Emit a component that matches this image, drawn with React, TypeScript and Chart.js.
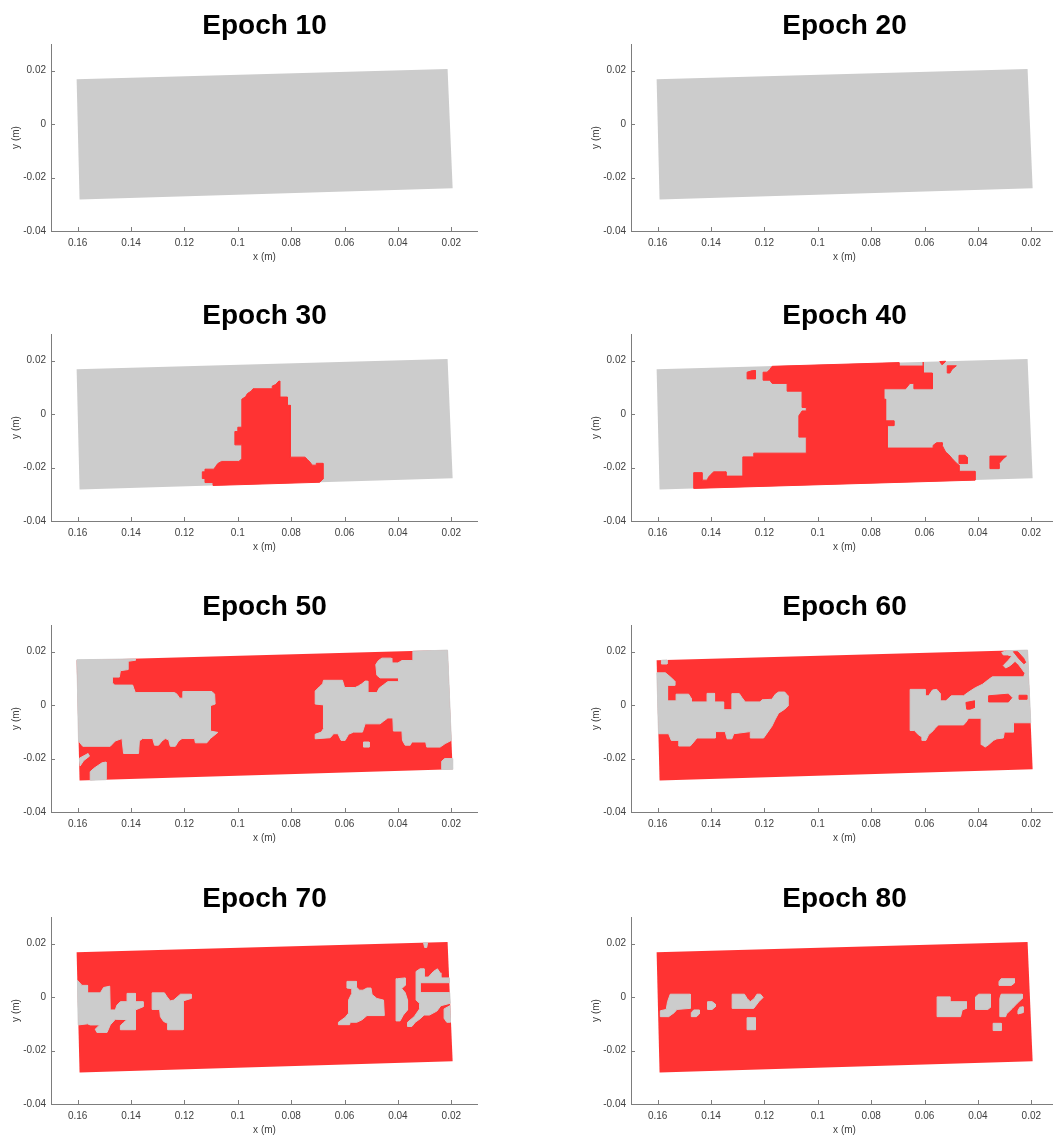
import React, { useEffect, useRef } from 'react';
import { Chart, registerables } from 'chart.js';

Chart.register(...registerables);

// ---------- axes ----------
const EPOCHS = [10, 20, 30, 40, 50, 60, 70, 80];
const X_TICKS = [0.16, 0.14, 0.12, 0.1, 0.08, 0.06, 0.04, 0.02];
const Y_TICKS = [-0.04, -0.02, 0, 0.02];
const X_RANGE = [0.01, 0.17];
const Y_RANGE = [-0.04, 0.03];

// ---------- specimen outline (x, y in metres) ----------
const DOMAIN = [[0.1604, 0.0168], [0.0214, 0.0206], [0.0195, -0.024], [0.1593, -0.0282]];

// ---------- epoch 30 : damaged (red) zone ----------
const E30_RED = [
  [0.0985, 0.0056], [0.0971, 0.0065], [0.0964, 0.0077], [0.095, 0.0086], [0.0943, 0.0095], [0.0871, 0.0095],
  [0.0871, 0.0105], [0.0858, 0.0111], [0.0846, 0.0124], [0.0843, 0.0124], [0.0843, 0.0064], [0.0814, 0.0064],
  [0.0814, 0.0033], [0.0803, 0.0033], [0.0803, -0.0161], [0.0748, -0.0161], [0.074, -0.0169], [0.073, -0.0179],
  [0.0721, -0.0191], [0.0706, -0.0191], [0.0706, -0.0184], [0.0681, -0.0184], [0.0681, -0.0243], [0.0693, -0.0255],
  [0.1093, -0.0267], [0.1093, -0.0256], [0.1123, -0.0256], [0.1123, -0.0241], [0.1133, -0.0241], [0.1133, -0.0216],
  [0.1123, -0.0216], [0.1123, -0.0206], [0.109, -0.0206], [0.1083, -0.0196], [0.1075, -0.0185], [0.1061, -0.0177],
  [0.0996, -0.0177], [0.0985, -0.0167], [0.0985, -0.0115], [0.1011, -0.0115], [0.1011, -0.0065], [0.1, -0.0065],
  [0.1, -0.0049], [0.0985, -0.0049],
];

// ---------- epoch 40 ----------
const E40_RED_MAIN = [
  [0.1171, 0.0179], [0.0696, 0.0193], [0.0696, 0.018], [0.0605, 0.018], [0.0605, 0.0195], [0.0605, 0.0154],
  [0.0571, 0.0154], [0.0571, 0.0095], [0.064, 0.0095], [0.064, 0.0115], [0.0655, 0.0115], [0.0671, 0.0095],
  [0.0753, 0.0095], [0.0753, 0.0056], [0.0746, 0.0056], [0.0746, -0.0025], [0.0715, -0.0025], [0.0715, -0.0043],
  [0.074, -0.0043], [0.074, -0.0127], [0.0568, -0.0127], [0.0568, -0.0117], [0.0555, -0.0107], [0.0534, -0.0107],
  [0.0534, -0.0117], [0.0521, -0.0142], [0.0509, -0.0152], [0.0496, -0.0167], [0.0481, -0.0183], [0.0471, -0.0191],
  [0.0471, -0.0214], [0.0411, -0.0214], [0.0411, -0.0247], [0.1465, -0.0278], [0.1465, -0.0219], [0.1434, -0.0219],
  [0.1434, -0.0247], [0.1415, -0.0247], [0.1409, -0.0235], [0.14, -0.0225], [0.139, -0.0216], [0.1344, -0.0216],
  [0.1344, -0.0232], [0.1281, -0.0232], [0.1281, -0.016], [0.124, -0.016], [0.124, -0.0146], [0.1043, -0.0146],
  [0.1043, -0.0086], [0.1071, -0.0086], [0.1071, -0.0006], [0.1059, 0.0012], [0.1043, 0.0012], [0.1043, 0.0025],
  [0.1059, 0.0025], [0.1059, 0.0086], [0.1115, 0.0086], [0.1115, 0.0115], [0.1171, 0.0115], [0.118, 0.0127],
  [0.1205, 0.0127], [0.1205, 0.0157], [0.119, 0.0157], [0.118, 0.0167],
];
const E40_RED_A = [[0.1265, 0.0157], [0.1245, 0.0163], [0.1234, 0.0163], [0.1234, 0.0132], [0.1265, 0.0132]];
const E40_RED_B = [[0.0543, 0.0197], [0.0521, 0.0198], [0.0528, 0.019], [0.0535, 0.0185]];
const E40_RED_C = [[0.0515, 0.0181], [0.0481, 0.0181], [0.0497, 0.0168], [0.0505, 0.0154], [0.0515, 0.0154]];
const E40_RED_D = [[0.0471, -0.0154], [0.0448, -0.0154], [0.044, -0.0162], [0.044, -0.0185], [0.0471, -0.0185]];
const E40_RED_E = [[0.0355, -0.0157], [0.0293, -0.0157], [0.0305, -0.0167], [0.0321, -0.0185], [0.0321, -0.0204], [0.0355, -0.0204]];

// ---------- epoch 50 : intact (grey) zones on red ----------
const E50_GRAY_L = [
  [0.1603, 0.017], [0.1384, 0.0173], [0.1384, 0.0168], [0.1412, 0.0164], [0.1412, 0.0133], [0.144, 0.0129],
  [0.1444, 0.0105], [0.1471, 0.0105], [0.1471, 0.0084], [0.1461, 0.0075], [0.1394, 0.0075], [0.139, 0.0063],
  [0.1384, 0.0047], [0.1237, 0.0047], [0.1228, 0.0041], [0.1218, 0.0026], [0.1206, 0.0026], [0.1206, 0.0051],
  [0.1097, 0.0051], [0.1087, 0.0041], [0.1085, 0.0004], [0.1103, -0.0002], [0.1103, -0.0097], [0.1075, -0.0102],
  [0.1103, -0.0125], [0.1116, -0.0141], [0.1159, -0.0141], [0.1162, -0.0125], [0.1209, -0.0125], [0.1222, -0.0134],
  [0.1234, -0.0154], [0.1253, -0.0154], [0.1259, -0.013], [0.1272, -0.0125], [0.1284, -0.0134], [0.1297, -0.015],
  [0.1312, -0.015], [0.1319, -0.0125], [0.1357, -0.0125], [0.1369, -0.0134], [0.1372, -0.0181], [0.1428, -0.0181],
  [0.1434, -0.0125], [0.1459, -0.0134], [0.1478, -0.0154], [0.1581, -0.0154], [0.1597, -0.0134],
];
const E50_GRAY_BL1 = [[0.1594, -0.0199], [0.1561, -0.0181], [0.1556, -0.0191], [0.1578, -0.0208], [0.1591, -0.0228]];
const E50_GRAY_BL2 = [[0.1553, -0.0281], [0.1553, -0.0249], [0.154, -0.0237], [0.1521, -0.0224], [0.1509, -0.0216], [0.1494, -0.0213], [0.1494, -0.0279]];
const E50_GRAY_R = [
  [0.0344, 0.0202], [0.0214, 0.0206], [0.02, -0.0132], [0.0223, -0.0144], [0.0242, -0.0157], [0.0292, -0.0157],
  [0.0296, -0.0138], [0.0348, -0.0138], [0.0354, -0.015], [0.0373, -0.015], [0.0383, -0.0132], [0.0385, -0.0097],
  [0.0417, -0.0097], [0.0419, -0.0048], [0.0438, -0.0048], [0.0454, -0.006], [0.0467, -0.007], [0.0523, -0.007],
  [0.0533, -0.0101], [0.0566, -0.0101], [0.0585, -0.0109], [0.0598, -0.0132], [0.0613, -0.0132], [0.0625, -0.0107],
  [0.0641, -0.0107], [0.0654, -0.0122], [0.071, -0.0126], [0.071, -0.0109], [0.0687, -0.0101], [0.0679, -0.0088],
  [0.0679, 0.0001], [0.071, 0.0004], [0.071, 0.0053], [0.0695, 0.0068], [0.0682, 0.008], [0.0679, 0.0093],
  [0.0608, 0.0093], [0.06, 0.0066], [0.056, 0.0066], [0.0548, 0.0072], [0.0535, 0.008], [0.0523, 0.009],
  [0.0513, 0.009], [0.0513, 0.0047], [0.0479, 0.0047], [0.047, 0.0064], [0.0454, 0.0076], [0.0438, 0.0088],
  [0.0398, 0.0088], [0.0398, 0.0102], [0.0467, 0.0102], [0.0479, 0.0112], [0.0483, 0.0152], [0.0473, 0.0167],
  [0.046, 0.0176], [0.0425, 0.0176], [0.0423, 0.0158], [0.04, 0.0158], [0.0385, 0.0167], [0.0344, 0.0167],
];
const E50_GRAY_ISLAND = [[0.0529, -0.0138], [0.0508, -0.0138], [0.0508, -0.0157], [0.0529, -0.0157]];
const E50_GRAY_BR = [[0.0236, -0.0241], [0.0236, -0.021], [0.0225, -0.02], [0.0197, -0.02], [0.0195, -0.024]];

// ---------- epoch 60 ----------
const E60_GRAY_TL = [[0.1586, 0.0168], [0.1565, 0.0169], [0.1565, 0.0154], [0.1586, 0.0154]];
const E60_GRAY_L = [
  [0.1603, 0.0121], [0.1571, 0.0121], [0.1553, 0.0106], [0.1536, 0.009], [0.1536, 0.0074], [0.1563, 0.0074],
  [0.1563, 0.0016], [0.1531, 0.0016], [0.1531, 0.0041], [0.1484, 0.0041], [0.1474, 0.0025], [0.1474, 0.0012],
  [0.1415, 0.0012], [0.1415, 0.0044], [0.1387, 0.0044], [0.1387, 0.0012], [0.1353, 0.0012], [0.1353, -0.0017],
  [0.1322, -0.0017], [0.1322, 0.0043], [0.1294, 0.0043], [0.1284, 0.0028], [0.1272, 0.0012], [0.1216, 0.0012],
  [0.1209, 0.002], [0.1172, 0.0022], [0.1159, 0.0041], [0.1147, 0.0049], [0.1124, 0.0049], [0.1112, 0.0035],
  [0.1112, -0.0003], [0.1124, -0.0015], [0.1147, -0.003], [0.1159, -0.0052], [0.1172, -0.0079], [0.1203, -0.0123],
  [0.1253, -0.0123], [0.1253, -0.0099], [0.1315, -0.0107], [0.1322, -0.0126], [0.134, -0.0126], [0.1347, -0.0099],
  [0.1384, -0.0099], [0.1384, -0.0123], [0.1453, -0.0123], [0.1465, -0.0138], [0.1478, -0.0153], [0.1521, -0.0153],
  [0.1521, -0.0132], [0.1549, -0.0132], [0.1559, -0.0107], [0.1597, -0.0107],
];
const E60_GRAY_T = [
  [0.0311, 0.0197], [0.0292, 0.0204], [0.0214, 0.0206], [0.021, 0.0122], [0.0226, 0.0122], [0.0236, 0.0136],
  [0.0248, 0.0152], [0.0261, 0.0164], [0.0279, 0.0148], [0.0296, 0.0139], [0.0305, 0.0148], [0.0286, 0.0168],
  [0.0273, 0.0183], [0.0288, 0.0188], [0.0305, 0.0188],
];
const E60_GRAY_M = [
  [0.0654, 0.0059], [0.0598, 0.0059], [0.0598, 0.0035], [0.0585, 0.0035], [0.057, 0.0057], [0.0554, 0.0059],
  [0.0542, 0.0044], [0.0542, 0.0016], [0.052, 0.0016], [0.05, 0.0035], [0.0454, 0.0035], [0.0435, 0.0049],
  [0.041, 0.0065], [0.0383, 0.0078], [0.036, 0.0096], [0.0346, 0.0106], [0.0229, 0.0106], [0.0223, 0.0121],
  [0.0211, 0.0127], [0.0202, -0.0066], [0.0267, -0.0066], [0.0267, -0.0101], [0.0301, -0.0101], [0.0305, -0.0123],
  [0.0329, -0.0126], [0.0342, -0.0132], [0.036, -0.0148], [0.0373, -0.0157], [0.0385, -0.0148], [0.0388, -0.0049],
  [0.0435, -0.0049], [0.0445, -0.0064], [0.0454, -0.0074], [0.0548, -0.0074], [0.056, -0.0086], [0.0567, -0.0095],
  [0.0585, -0.0111], [0.0595, -0.0132], [0.061, -0.0132], [0.061, -0.0119], [0.0623, -0.0111], [0.0638, -0.0095],
  [0.0654, -0.0095],
];
const E60_RED_STRIPE = [[0.0267, 0.02], [0.0251, 0.02], [0.0229, 0.0176], [0.0221, 0.016], [0.0228, 0.0155], [0.0248, 0.0176]];
const E60_RED_R1 = [[0.036, 0.0035], [0.0286, 0.0041], [0.0273, 0.0028], [0.0286, 0.0012], [0.036, 0.0012]];
const E60_RED_R2 = [[0.0445, 0.001], [0.0413, 0.0016], [0.0413, -0.0009], [0.0429, -0.0015], [0.0442, -0.0015]];
const E60_RED_R3 = [[0.0246, 0.0037], [0.0217, 0.0037], [0.0217, 0.0022], [0.0246, 0.0022]];

// ---------- epoch 70 ----------
const E70_GRAY_L1 = [
  [0.1601, 0.0063], [0.1584, 0.0044], [0.1563, 0.0044], [0.1563, 0.0016], [0.1515, 0.0016], [0.1503, 0.0036],
  [0.148, 0.0041], [0.1478, -0.0048], [0.1459, -0.0048], [0.1453, -0.003], [0.144, -0.0017], [0.1415, -0.0017],
  [0.1415, 0.0014], [0.1384, 0.0014], [0.1384, -0.0017], [0.1355, -0.0017], [0.1355, -0.0036], [0.1384, -0.0048],
  [0.1384, -0.0122], [0.144, -0.0122], [0.144, -0.0107], [0.1428, -0.0095], [0.1415, -0.0084], [0.1459, -0.0083],
  [0.1478, -0.0104], [0.149, -0.0132], [0.1528, -0.0132], [0.1534, -0.012], [0.1518, -0.0104], [0.1553, -0.0104],
  [0.1563, -0.01], [0.1598, -0.0104],
];
const E70_GRAY_L2 = [
  [0.1321, 0.0016], [0.1275, 0.0016], [0.1265, 0.0001], [0.1253, -0.0014], [0.124, -0.0011], [0.1215, 0.0011],
  [0.1175, 0.0011], [0.1175, -0.0005], [0.1205, -0.0014], [0.1205, -0.0122], [0.1263, -0.0122], [0.1263, -0.0098],
  [0.1278, -0.0091], [0.129, -0.0073], [0.1293, -0.0046], [0.1321, -0.0046],
];
const E70_GRAY_G1 = [
  [0.0591, 0.0059], [0.0556, 0.0059], [0.0556, 0.0038], [0.0544, 0.0026], [0.0531, 0.0026], [0.0516, 0.0034],
  [0.0501, 0.0034], [0.0497, 0.001], [0.0479, -0.0005], [0.0454, -0.0011], [0.0451, -0.0069], [0.0516, -0.0069],
  [0.0535, -0.0085], [0.0554, -0.0094], [0.0579, -0.0094], [0.0581, -0.0103], [0.0623, -0.0103], [0.0623, -0.0094],
  [0.0598, -0.0076], [0.0585, -0.006], [0.0585, -0.0011], [0.0573, 0.0014], [0.0573, 0.0032], [0.0591, 0.0034],
];
const E70_GRAY_G2 = [
  [0.0402, 0.0069], [0.0373, 0.0072], [0.0373, 0.0044], [0.0386, 0.0032], [0.0373, 0.0017], [0.0364, -0.0011],
  [0.0364, -0.0048], [0.038, -0.0067], [0.0392, -0.0089], [0.0407, -0.0089], [0.0407, 0.0069],
];
const E70_GRAY_G3 = [
  [0.0332, 0.0096], [0.0317, 0.0106], [0.0302, 0.0106], [0.0302, 0.0075], [0.0286, 0.0075], [0.0267, 0.0096],
  [0.0252, 0.0106], [0.0242, 0.0091], [0.0239, 0.0072], [0.0208, 0.0072], [0.0208, 0.0054], [0.0317, 0.0054],
  [0.0317, 0.0017], [0.0206, 0.0017], [0.0204, -0.0023], [0.0239, -0.0032], [0.0254, -0.0052], [0.0282, -0.0067],
  [0.0302, -0.0067], [0.0317, -0.0081], [0.0335, -0.0094], [0.0348, -0.011], [0.0364, -0.011], [0.0364, -0.0094],
  [0.0339, -0.0073], [0.0319, -0.0044], [0.0319, -0.0023], [0.0332, -0.0011],
];
const E70_GRAY_G4 = [[0.0227, -0.0044], [0.0205, -0.0032], [0.0203, -0.0094], [0.0217, -0.0094], [0.0227, -0.0079]];
const E70_GRAY_G5 = [[0.0304, 0.0204], [0.0289, 0.0204], [0.0292, 0.0186], [0.03, 0.0186]];

// ---------- epoch 80 ----------
const E80_GRAY_1 = [[0.1553, 0.0011], [0.1478, 0.0011], [0.1478, -0.0042], [0.1528, -0.0046], [0.1538, -0.0058], [0.1559, -0.0073], [0.159, -0.0073], [0.159, -0.0051], [0.1568, -0.0046], [0.1563, -0.0017]];
const E80_GRAY_2 = [[0.1465, -0.0048], [0.1444, -0.0048], [0.1444, -0.0063], [0.1455, -0.0073], [0.1474, -0.0073], [0.1474, -0.0058]];
const E80_GRAY_3 = [[0.1413, -0.0017], [0.1396, -0.0017], [0.1384, -0.0026], [0.1384, -0.0036], [0.1396, -0.0046], [0.1413, -0.0046]];
const E80_GRAY_4 = [[0.1321, 0.0011], [0.1275, 0.0011], [0.1265, -0.0005], [0.1253, -0.0017], [0.1238, -0.0005], [0.1228, 0.0011], [0.1215, 0.0011], [0.1205, -0.0001], [0.1221, -0.0017], [0.124, -0.0042], [0.1321, -0.0042]];
const E80_GRAY_5 = [[0.1265, -0.0077], [0.1234, -0.0077], [0.1234, -0.0122], [0.1265, -0.0122]];
const E80_GRAY_6 = [[0.0553, 0.0001], [0.0505, 0.0001], [0.0505, -0.0017], [0.0443, -0.0017], [0.0443, -0.0042], [0.0459, -0.0048], [0.0465, -0.0073], [0.0553, -0.0073]];
const E80_GRAY_7 = [[0.0409, 0.0001], [0.0397, 0.0011], [0.0353, 0.0011], [0.0353, -0.0038], [0.0363, -0.0046], [0.0409, -0.0046]];
const E80_GRAY_8 = [[0.0313, 0.0069], [0.0263, 0.0069], [0.0263, 0.0053], [0.0275, 0.0044], [0.0321, 0.0044], [0.0321, 0.0058]];
const E80_GRAY_9 = [[0.0313, 0.0011], [0.0234, 0.0011], [0.0234, -0.0005], [0.0253, -0.0023], [0.0271, -0.0042], [0.0293, -0.0063], [0.0296, -0.0073], [0.0318, -0.0073], [0.0318, -0.0005]];
const E80_GRAY_10 = [[0.0243, -0.0038], [0.0231, -0.0036], [0.0231, -0.0058], [0.025, -0.0063], [0.025, -0.0051]];
const E80_GRAY_11 = [[0.0343, -0.0098], [0.0313, -0.0098], [0.0313, -0.0125], [0.0343, -0.0125]];

// ---------- styling ----------
const GRAY = '#cccccc';
const RED = '#ff3333';
const AXIS = '#7d7d7d';
const TEXT = '#404040';
const FONT = "'Liberation Sans', Arial, Helvetica, sans-serif";

const PANEL_BASE = [GRAY, GRAY, GRAY, GRAY, RED, RED, RED, RED];
const PANEL_LAYERS = [
  [],
  [],
  [{ color: RED, polys: [E30_RED] }],
  [{ color: RED, polys: [E40_RED_MAIN, E40_RED_A, E40_RED_B, E40_RED_C, E40_RED_D, E40_RED_E] }],
  [{ color: GRAY, polys: [E50_GRAY_L, E50_GRAY_BL1, E50_GRAY_BL2, E50_GRAY_R, E50_GRAY_ISLAND, E50_GRAY_BR] }],
  [
    { color: GRAY, polys: [E60_GRAY_TL, E60_GRAY_L, E60_GRAY_T, E60_GRAY_M] },
    { color: RED, polys: [E60_RED_STRIPE, E60_RED_R1, E60_RED_R2, E60_RED_R3] },
  ],
  [{ color: GRAY, polys: [E70_GRAY_L1, E70_GRAY_L2, E70_GRAY_G1, E70_GRAY_G2, E70_GRAY_G3, E70_GRAY_G4, E70_GRAY_G5] }],
  [{ color: GRAY, polys: [E80_GRAY_1, E80_GRAY_2, E80_GRAY_3, E80_GRAY_4, E80_GRAY_5, E80_GRAY_6, E80_GRAY_7, E80_GRAY_8, E80_GRAY_9, E80_GRAY_10, E80_GRAY_11] }],
];

// layout
const COL_LEFT = [0, 580];
const ROW_TOP = [0, 290, 581, 873];
const CANVAS_W = 478;
const CANVAS_H = 290;
const TICK_LEN = 4;

function polyDataset(poly: number[][], color: string, order: number, stroke: number) {
  const pts = poly.map(([x, y]) => ({ x, y }));
  pts.push({ x: poly[0][0], y: poly[0][1] });
  return {
    data: pts,
    backgroundColor: color,
    borderColor: color,
    borderWidth: stroke,
    borderJoinStyle: 'bevel',
    pointRadius: 0,
    pointHoverRadius: 0,
    tension: 0,
    fill: 'shape',
    order,
  };
}

const inwardTicks = {
  id: 'inwardTicks',
  afterDraw(chart: any) {
    const { ctx, chartArea, scales } = chart;
    ctx.save();
    ctx.strokeStyle = AXIS;
    ctx.lineWidth = 1;
    ctx.beginPath();
    for (const v of X_TICKS) {
      const px = Math.round(scales.x.getPixelForValue(v)) + 0.5;
      ctx.moveTo(px, chartArea.bottom);
      ctx.lineTo(px, chartArea.bottom - TICK_LEN);
    }
    for (const v of Y_TICKS) {
      const py = Math.round(scales.y.getPixelForValue(v)) + 0.5;
      ctx.moveTo(chartArea.left, py);
      ctx.lineTo(chartArea.left + TICK_LEN, py);
    }
    ctx.stroke();
    ctx.restore();
  },
};

function Panel({ index }: { index: number }) {
  const ref = useRef<HTMLCanvasElement | null>(null);
  useEffect(() => {
    if (!ref.current) return;
    const layers = PANEL_LAYERS[index];
    const datasets: any[] = [];
    // top-most first (Chart.js draws the first dataset last)
    for (let l = layers.length - 1; l >= 0; l--) {
      for (const p of layers[l].polys) datasets.push(polyDataset(p, layers[l].color, layers.length - l, 1));
    }
    datasets.push(polyDataset(DOMAIN, PANEL_BASE[index], layers.length + 1, 0));

    const chart = new Chart(ref.current, {
      type: 'line',
      data: { datasets },
      plugins: [inwardTicks],
      options: {
        responsive: false,
        animation: false,
        events: [],
        layout: { padding: 0 },
        plugins: {
          legend: { display: false },
          tooltip: { enabled: false },
          title: {
            display: true,
            text: `Epoch ${EPOCHS[index]}`,
            fullSize: false,
            color: '#000000',
            font: { family: FONT, size: 28, weight: 'bold', lineHeight: 1.2 },
            padding: { top: 9, bottom: 1.4 },
          },
        },
        scales: {
          x: {
            type: 'linear',
            position: 'bottom',
            reverse: true,
            min: X_RANGE[0],
            max: X_RANGE[1],
            afterBuildTicks: (s: any) => {
              s.ticks = X_TICKS.map((v) => ({ value: v }));
            },
            afterFit: (s: any) => {
              s.height = CANVAS_H - 44 - 187;
            },
            grid: { display: false, drawTicks: false },
            border: { display: true, color: AXIS, width: 1 },
            ticks: {
              color: TEXT,
              font: { family: FONT, size: 10 },
              padding: 6,
              maxRotation: 0,
              autoSkip: false,
              callback: (v: any) => String(v),
            },
            title: {
              display: true,
              text: 'x (m)',
              color: TEXT,
              font: { family: FONT, size: 10 },
              padding: { top: 0, bottom: 27 },
            },
          },
          y: {
            type: 'linear',
            position: 'left',
            min: Y_RANGE[0],
            max: Y_RANGE[1],
            afterBuildTicks: (s: any) => {
              s.ticks = Y_TICKS.map((v) => ({ value: v }));
            },
            afterFit: (s: any) => {
              s.width = 51;
            },
            grid: { display: false, drawTicks: false },
            border: { display: true, color: AXIS, width: 1 },
            ticks: {
              color: TEXT,
              font: { family: FONT, size: 10 },
              padding: 5,
              autoSkip: false,
              callback: (v: any) => String(v),
            },
            title: {
              display: true,
              text: 'y (m)',
              color: TEXT,
              font: { family: FONT, size: 10 },
              padding: { top: 10, bottom: 0 },
            },
          },
        },
      } as any,
    });
    return () => chart.destroy();
  }, [index]);

  const col = index % 2;
  const row = Math.floor(index / 2);
  return (
    <div style={{ position: 'absolute', left: COL_LEFT[col], top: ROW_TOP[row], width: CANVAS_W, height: CANVAS_H }}>
      <canvas ref={ref} width={CANVAS_W} height={CANVAS_H} style={{ display: 'block', width: CANVAS_W, height: CANVAS_H }} />
    </div>
  );
}

export default function App() {
  return (
    <div
      style={{
        position: 'absolute',
        left: 0,
        top: 0,
        width: 1053,
        height: 1135,
        overflow: 'hidden',
        background: '#ffffff',
      }}
    >
      {EPOCHS.map((_, i) => (
        <Panel key={i} index={i} />
      ))}
    </div>
  );
}
